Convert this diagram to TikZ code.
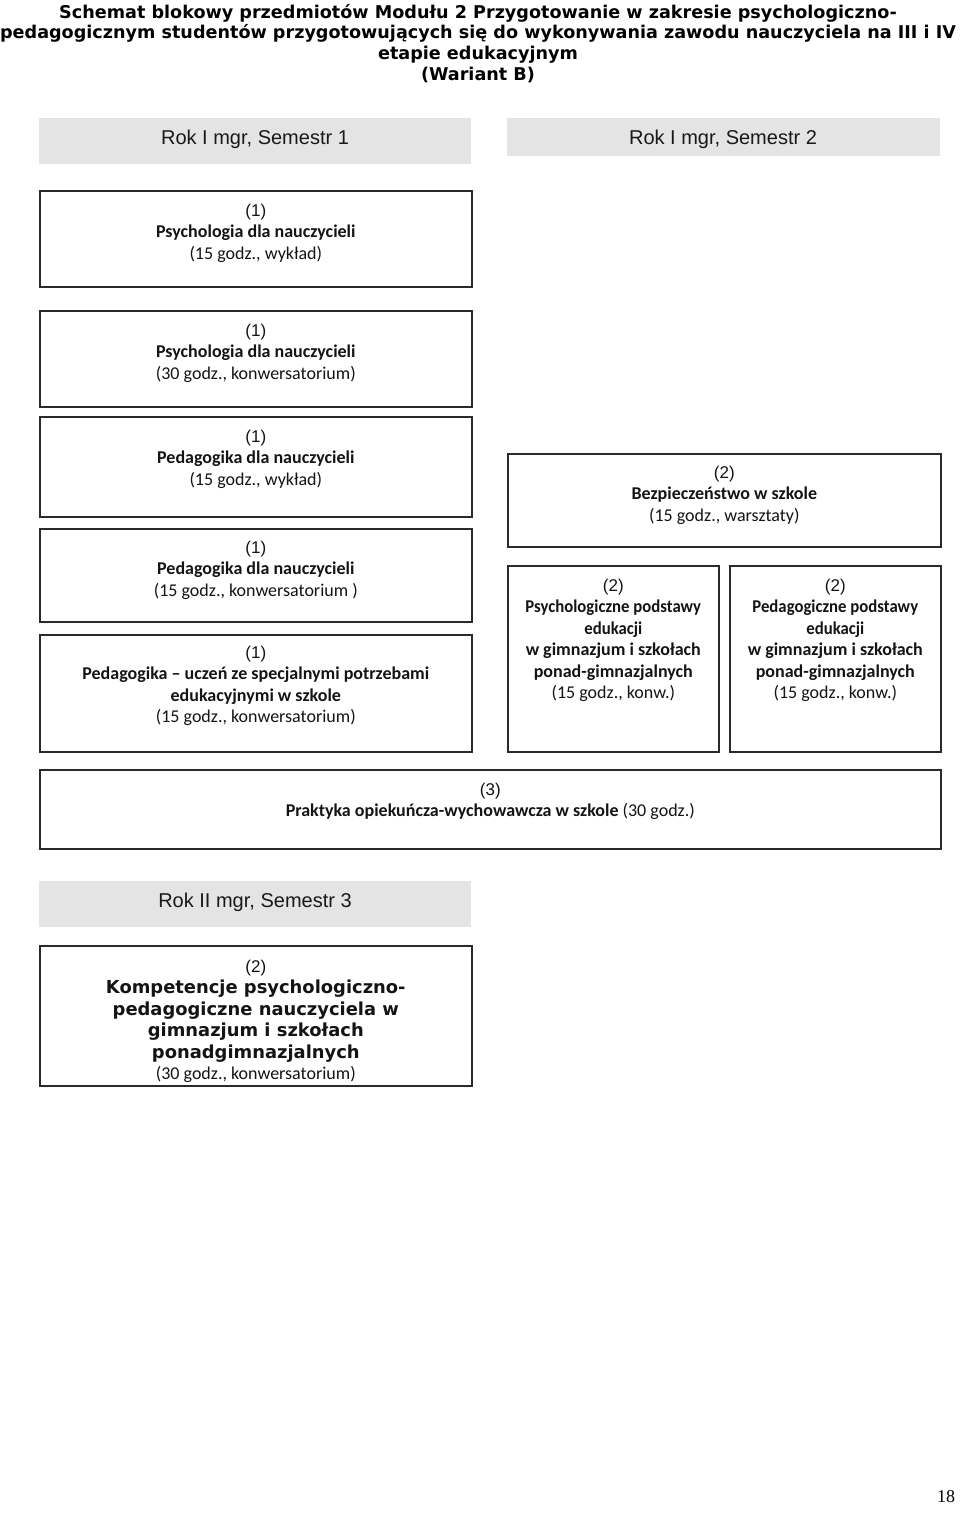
\documentclass[tikz,border=0pt]{standalone}
\usepackage{graphicx}
\usepackage{fontspec}
\setmainfont{Carlito}
\newfontfamily\arialf{Liberation Sans}
\newfontfamily\verdf{DejaVu Sans}
\newfontfamily\timesf{Liberation Serif}
\definecolor{bandgray}{HTML}{E4E4E4}
\definecolor{boxline}{HTML}{2A2A2A}
\begin{document}
\begin{tikzpicture}[x=1pt,y=-1pt,
  band/.style={fill=bandgray, draw=none, inner sep=0pt, anchor=north west},
  bandtxt/.style={font=\arialf\fontsize{20}{23}\selectfont, text=black!90, inner sep=0pt},
  box/.style={draw=boxline, line width=1.6pt, fill=white, inner sep=0pt, anchor=north west},
  txt/.style={align=center, inner sep=0pt, anchor=north, font=\fontsize{18}{21.4}\selectfont, text=black!92},
  ttl/.style={align=center, inner sep=0pt, anchor=north, font=\verdf\bfseries\fontsize{17.6}{20.7}\selectfont}
]
\useasboundingbox (0,0) rectangle (960,1513);
\newcommand{\pn}[1]{{\arialf\fontsize{17}{21.4}\selectfont #1}}
\newcommand{\kf}{\verdf\bfseries\fontsize{17.9}{21.4}\selectfont}
\newcommand{\nar}[1]{\scalebox{0.93}[1]{\textbf{#1}}}

% title
\node[ttl] (title) at (478,4) {Schemat blokowy przedmiotów Modułu 2 Przygotowanie w zakresie psychologiczno-\\
pedagogicznym studentów przygotowujących się do wykonywania zawodu nauczyciela na III i IV\\
etapie edukacyjnym\\
(Wariant B)};

% header bands
\node[band, minimum width=432pt, minimum height=46pt] (h1) at (39,118) {};
\node[bandtxt] (h1t) at (255,139) {Rok I mgr, Semestr 1};
\node[band, minimum width=433pt, minimum height=38pt] (h2) at (507,118) {};
\node[bandtxt] (h2t) at (723,139) {Rok I mgr, Semestr 2};

% semester 1 boxes
\node[box, minimum width=432pt, minimum height=96pt] (b1) at (39,190) {};
\node[txt] (b1t) at ([yshift=-14pt]b1.north) {\pn{(1)}\\ \textbf{Psychologia dla nauczycieli}\\ (15 godz., wykład)};

\node[box, minimum width=432pt, minimum height=96pt] (b2) at (39,310) {};
\node[txt] (b2t) at ([yshift=-14pt]b2.north) {\pn{(1)}\\ \textbf{Psychologia dla nauczycieli}\\ (30 godz., konwersatorium)};

\node[box, minimum width=432pt, minimum height=100pt] (b3) at (39,416) {};
\node[txt] (b3t) at ([yshift=-14pt]b3.north) {\pn{(1)}\\ \textbf{Pedagogika dla nauczycieli}\\ (15 godz., wykład)};

\node[box, minimum width=432pt, minimum height=93pt] (b4) at (39,528) {};
\node[txt] (b4t) at ([yshift=-13pt]b4.north) {\pn{(1)}\\ \textbf{Pedagogika dla nauczycieli}\\ (15 godz., konwersatorium )};

\node[box, minimum width=432pt, minimum height=117pt] (b5) at (39,634) {};
\node[txt] (b5t) at ([yshift=-12pt]b5.north) {\pn{(1)}\\ \textbf{Pedagogika -- uczeń ze specjalnymi potrzebami}\\ \textbf{edukacyjnymi w szkole}\\ (15 godz., konwersatorium)};

% semester 2 boxes
\node[box, minimum width=433pt, minimum height=93pt] (c1) at (507,453) {};
\node[txt] (c1t) at ([yshift=-13pt]c1.north) {\pn{(2)}\\ \textbf{Bezpieczeństwo w szkole}\\ (15 godz., warsztaty)};

\node[box, minimum width=211pt, minimum height=186pt] (c2) at (507,565) {};
\node[txt] (c2t) at ([yshift=-14pt]c2.north) {\pn{(2)}\\ \nar{Psychologiczne podstawy}\\ \nar{edukacji}\\ \textbf{w gimnazjum i szkołach}\\ \textbf{ponad-gimnazjalnych}\\ (15 godz., konw.)};

\node[box, minimum width=211pt, minimum height=186pt] (c3) at (729,565) {};
\node[txt] (c3t) at ([yshift=-14pt]c3.north) {\pn{(2)}\\ \nar{Pedagogiczne podstawy}\\ \nar{edukacji}\\ \textbf{w gimnazjum i szkołach}\\ \textbf{ponad-gimnazjalnych}\\ (15 godz., konw.)};

% practice
\node[box, minimum width=901pt, minimum height=79pt] (pr) at (39,769) {};
\node[txt] (prt) at ([yshift=-14pt]pr.north) {\pn{(3)}\\ \textbf{Praktyka opiekuńcza-wychowawcza w szkole} (30 godz.)};

% semester 3
\node[band, minimum width=432pt, minimum height=46pt] (h3) at (39,881) {};
\node[bandtxt] (h3t) at (255,902) {Rok II mgr, Semestr 3};

\node[box, minimum width=432pt, minimum height=140pt] (d1) at (39,945) {};
\node[txt] (d1t) at ([yshift=-15pt]d1.north) {\pn{(2)}\\ {\kf Kompetencje psychologiczno-}\\ {\kf pedagogiczne nauczyciela w}\\ {\kf gimnazjum i szkołach}\\ {\kf ponadgimnazjalnych}\\ (30 godz., konwersatorium)};

% page number
\node[inner sep=0pt, font=\timesf\fontsize{18}{20}\selectfont] (pg) at (946,1497) {18};
\end{tikzpicture}
\end{document}
